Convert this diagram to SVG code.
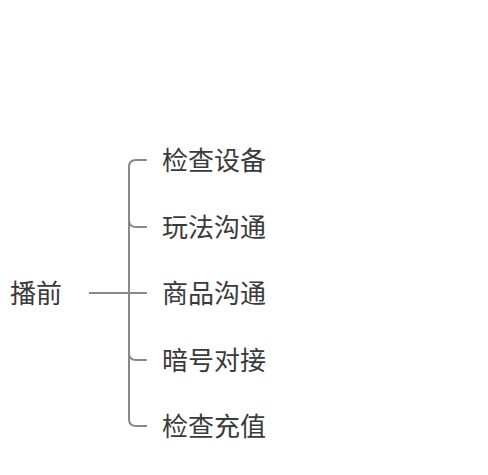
<svg xmlns="http://www.w3.org/2000/svg" width="488" height="475" viewBox="0 0 488 475">
<style>
.t{font-family:"Noto Sans CJK SC","Liberation Sans",sans-serif;font-size:26px;fill:#3a3a3a;dominant-baseline:central}
.c{fill:none;stroke:#888;stroke-width:2}
</style>
<rect width="488" height="475" fill="#fff"/>
<g id="connectors">
<path class="c" d="M89 293H147" stroke-width="2.5"/>
<path class="c" d="M147 160H136Q129 160 129 167V419Q129 426 136 426H147"/>
<path class="c" d="M129 220Q129 227 136 227H147"/>
<path class="c" d="M129 353Q129 360 136 360H147"/>
</g>
<g id="root"><text class="t" x="10" y="291">播前</text></g>
<g id="n1"><text class="t" x="162" y="158">检查设备</text></g>
<g id="n2"><text class="t" x="162" y="225">玩法沟通</text></g>
<g id="n3"><text class="t" x="162" y="291">商品沟通</text></g>
<g id="n4"><text class="t" x="162" y="358">暗号对接</text></g>
<g id="n5"><text class="t" x="162" y="424">检查充值</text></g>
</svg>
